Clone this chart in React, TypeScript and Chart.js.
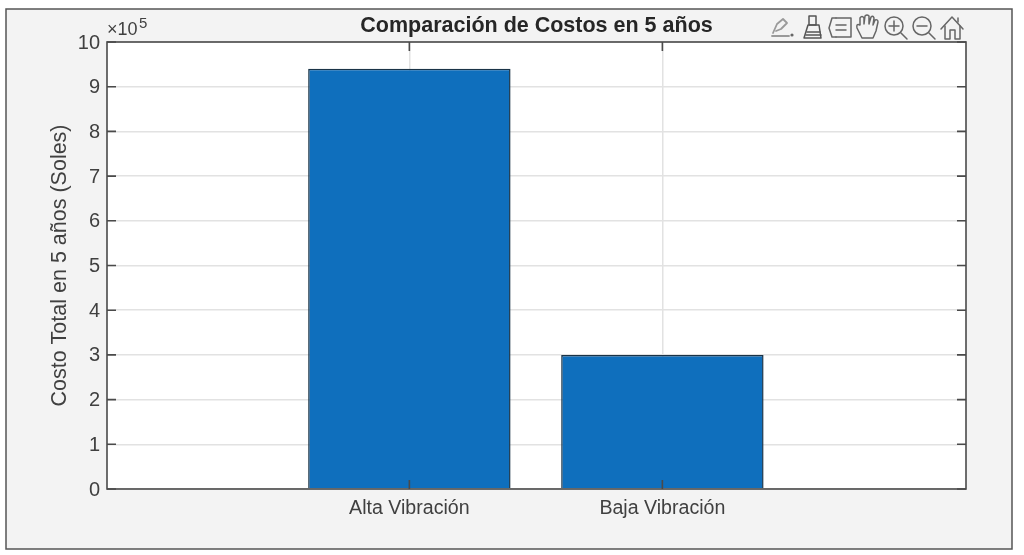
import React, { useEffect, useRef } from "react";
import { Chart, registerables } from "chart.js";

Chart.register(...registerables);

const categories = ["Alta Vibración", "Baja Vibración"];
const positions = [1, 2];
const costs = [940000, 300000];
const yTicks = [0, 100000, 200000, 300000, 400000, 500000, 600000, 700000, 800000, 900000, 1000000];
const titleText = "Comparación de Costos en 5 años";
const yTitle = "Costo Total en 5 años (Soles)";

const FONT = "'Liberation Sans', Arial, sans-serif";
const INK = "#404040";

const framePlugin = {
  id: "frame",
  beforeDraw(chart: any) {
    const { ctx, chartArea: a } = chart;
    ctx.save();
    ctx.fillStyle = "#f3f3f3";
    ctx.fillRect(6, 9, 1006, 540);
    ctx.strokeStyle = "#555555";
    ctx.lineWidth = 1.5;
    ctx.strokeRect(6, 9, 1006, 540);
    ctx.fillStyle = "#ffffff";
    ctx.fillRect(a.left, a.top, a.right - a.left, a.bottom - a.top);
    ctx.restore();
  },
  afterDraw(chart: any) {
    const { ctx, chartArea: a, scales } = chart;
    ctx.save();
    ctx.strokeStyle = "#4a4a4a";
    ctx.lineWidth = 1.6;
    ctx.strokeRect(a.left, a.top, a.right - a.left, a.bottom - a.top);
    ctx.beginPath();
    for (const v of yTicks) {
      const y = scales.y.getPixelForValue(v);
      ctx.moveTo(a.left, y);
      ctx.lineTo(a.left + 9, y);
      ctx.moveTo(a.right, y);
      ctx.lineTo(a.right - 9, y);
    }
    for (const v of positions) {
      const x = scales.x.getPixelForValue(v);
      ctx.moveTo(x, a.bottom);
      ctx.lineTo(x, a.bottom - 9);
      ctx.moveTo(x, a.top);
      ctx.lineTo(x, a.top + 9);
    }
    ctx.stroke();
    ctx.fillStyle = INK;
    ctx.textAlign = "left";
    ctx.textBaseline = "alphabetic";
    ctx.font = `18px ${FONT}`;
    ctx.fillText("×10", 107, 35);
    ctx.font = `15px ${FONT}`;
    ctx.fillText("5", 139, 28);
    ctx.restore();
  },
};

function Icons() {
  const s = { fill: "none", stroke: "#666666", strokeWidth: 1.5, strokeLinecap: "round", strokeLinejoin: "round" } as any;
  return (
    <svg width={1024} height={555} style={{ position: "absolute", left: 0, top: 0, pointerEvents: "none" }}>
      <g {...s} stroke="#9a9a9a" strokeWidth={1.8}>
        <path d="M773 33 L777 24 L783 19 L787 23 L781 29 L776 31" />
        <path d="M772 36 L789 36" />
      </g>
      <circle cx={792} cy={35} r={1.6} fill="#666" />
      <g {...s} stroke="#555555">
        <path d="M809 16 H816 V25 H809 Z" />
        <path d="M808 25 H819 L821 38 H804 Z" />
        <path d="M807 32 H820 M806 35 H821" />
      </g>
      <g {...s}>
        <path d="M832 18 H836 M832 37 H836 M832 18 L829 28 L832 37" />
        <path d="M836 18 H851 V37 H836" />
        <path d="M836 25 H846 M836 30 H846" />
      </g>
      <g {...s}>
        <path d="M862 38 L857 28 Q856 23 860 25 L860 18 Q862 15 864 18 L864 24 L865 16 Q867 14 869 16 L869 24 L871 17 Q873 15 874 18 L873 25 L875 20 Q878 19 878 22 L876 31 L873 38 Z" />
      </g>
      <g {...s}>
        <circle cx={894} cy={26} r={9} />
        <path d="M901 33 L907 39 M889 26 H899 M894 21 V31" />
      </g>
      <g {...s}>
        <circle cx={922} cy={26} r={9} />
        <path d="M929 33 L935 39 M917 26 H927" />
      </g>
      <g {...s}>
        <path d="M941 29 L952 17 L963 29" />
        <path d="M945 26 V39 H950 V30 H955 V39 H960 V26" />
        <path d="M958 18 V22" />
      </g>
    </svg>
  );
}

export default function App() {
  const ref = useRef<HTMLCanvasElement>(null);

  useEffect(() => {
    const chart = new Chart(ref.current!, {
      type: "bar",
      data: {
        datasets: [
          {
            data: positions.map((x, i) => ({ x, y: costs[i] })),
            backgroundColor: "#0f6fbd",
            borderColor: "#1a3347",
            borderWidth: 1.5,
            barPercentage: 0.8,
            categoryPercentage: 1,
          },
        ],
      },
      options: {
        responsive: false,
        animation: false,
        layout: { padding: { left: 0, top: 0, right: 58, bottom: 0 } },
        plugins: {
          legend: { display: false },
          tooltip: { enabled: false },
          title: {
            display: true,
            text: titleText,
            fullSize: false,
            color: "#262626",
            font: { family: FONT, size: 21.5, weight: "bold", lineHeight: 1.2 },
            padding: { top: 13, bottom: 3.2 },
          },
        },
        scales: {
          x: {
            type: "linear",
            offset: false,
            min: -0.195,
            max: 3.2,
            afterBuildTicks(scale: any) {
              scale.ticks = positions.map((value) => ({ value }));
            },
            afterFit(scale: any) {
              scale.height = 66;
            },
            border: { display: false },
            grid: { offset: false, color: "#e2e2e2", lineWidth: 1.5, drawTicks: false },
            ticks: {
              autoSkip: false,
              maxRotation: 0,
              padding: 8,
              color: INK,
              font: { family: FONT, size: 19.6 },
              callback: (v: any) => categories[positions.indexOf(Number(v))] ?? "",
            },
          },
          y: {
            min: 0,
            max: 1000000,
            afterBuildTicks(scale: any) {
              scale.ticks = yTicks.map((value) => ({ value }));
            },
            afterFit(scale: any) {
              scale.width = 107;
            },
            border: { display: false },
            grid: { color: "#e2e2e2", lineWidth: 1.5, drawTicks: false },
            title: {
              display: true,
              text: yTitle,
              color: INK,
              font: { family: FONT, size: 21.5 },
              padding: { top: 47, bottom: 0 },
            },
            ticks: {
              padding: 7,
              labelOffset: 1,
              color: INK,
              font: { family: FONT, size: 20 },
              callback: (v: any) => String(Number(v) / 100000),
            },
          },
        },
      },
      plugins: [framePlugin],
    } as any);
    return () => chart.destroy();
  }, []);

  return (
    <div style={{ position: "fixed", left: 0, top: 0, width: 1024, height: 555, background: "#ffffff" }}>
      <canvas ref={ref} width={1024} height={555} style={{ display: "block", width: 1024, height: 555 }} />
      <Icons />
    </div>
  );
}
